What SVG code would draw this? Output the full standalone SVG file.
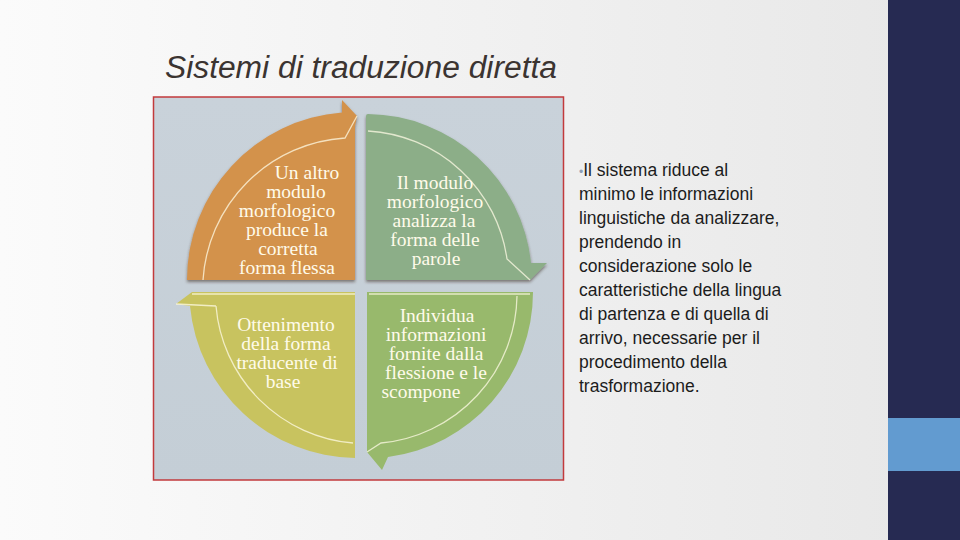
<svg xmlns="http://www.w3.org/2000/svg" width="960" height="540" viewBox="0 0 960 540">
<defs>
<linearGradient id="bg" x1="0" y1="0" x2="1" y2="0">
<stop offset="0" stop-color="#fbfbfb"/>
<stop offset="1" stop-color="#e7e7e7"/>
</linearGradient>
<linearGradient id="panel" x1="0" y1="0" x2="0" y2="1">
<stop offset="0" stop-color="#c9d2da"/>
<stop offset="1" stop-color="#c4ced6"/>
</linearGradient>
<filter id="sh" x="-10%" y="-10%" width="120%" height="125%">
<feDropShadow dx="0" dy="2" stdDeviation="1.5" flood-color="#3a2a1a" flood-opacity="0.55"/>
</filter>
<style>
.q{font-family:"Liberation Serif","Times New Roman",serif;font-size:19.5px;fill:#fffbea;text-anchor:middle}
.hl{fill:none;stroke:#fffbe6;stroke-width:1.3;stroke-opacity:0.75}
.bt{font-family:"Liberation Sans",Arial,sans-serif;font-size:17.5px;fill:#1c1c1c}
</style>
</defs>
<rect x="0" y="0" width="960" height="540" fill="url(#bg)"/>
<rect x="888" y="0" width="72" height="540" fill="#262a52"/>
<rect x="888" y="418" width="72" height="53" fill="#629bd0"/>
<text x="165" y="78" font-family="Liberation Sans, Arial, sans-serif" font-style="italic" font-size="31" fill="#3b3431" textLength="392" lengthAdjust="spacingAndGlyphs">Sistemi di traduzione diretta</text>
<rect x="153.5" y="97" width="410" height="383" fill="url(#panel)" stroke="#c23a3c" stroke-width="1.5"/>
<g id="connectors"/>
<g id="node-orange">
<path d="M187,280 A168,168 0 0 1 342,112.5 L342,100 L357,116 L355,126 L355,280 Z" fill="#d3924c" filter="url(#sh)"/>
<path class="hl" d="M203,280 A152,152 0 0 1 345,138 L357,116"/>
<text class="q" x="307" y="179">Un altro</text>
<text class="q" x="296" y="198">modulo</text>
<text class="q" x="287" y="217">morfologico</text>
<text class="q" x="287" y="236">produce la</text>
<text class="q" x="288" y="255">corretta</text>
<text class="q" x="287" y="274">forma flessa</text>
</g>
<g id="node-green-top">
<path d="M366,280 L366,116 Q366,114 368,114 A166,166 0 0 1 531,263 L547,263 L530,280 L366,280 Z" fill="#8cae88" filter="url(#sh)"/>
<path class="hl" d="M368,131 A149,149 0 0 1 507,259 L530,280"/>
<text class="q" x="435" y="189">Il modulo</text>
<text class="q" x="435" y="208">morfologico</text>
<text class="q" x="434" y="227">analizza la</text>
<text class="q" x="435" y="246">forma delle</text>
<text class="q" x="436" y="265">parole</text>
</g>
<g id="node-yellow">
<path d="M355,292 L192,292 L176,304 L190,306 A168,168 0 0 0 355,458 Z" fill="#c8c35f"/>
<path class="hl" d="M355,294 L192,294 M216,306 A150,150 0 0 0 353,443 M176,304 L216,306"/>
<text class="q" x="286" y="331">Ottenimento</text>
<text class="q" x="286" y="350">della forma</text>
<text class="q" x="287" y="369">traducente di</text>
<text class="q" x="283" y="388">base</text>
</g>
<g id="node-green-bottom">
<path d="M367,292 L533,292 A166,166 0 0 1 388,457 L382,470 L367,452 Z" fill="#98b96c"/>
<path class="hl" d="M369,294 L530,294 M517,296 A150,150 0 0 1 381,443 L367,452"/>
<text class="q" x="437" y="322">Individua</text>
<text class="q" x="436" y="341">informazioni</text>
<text class="q" x="436" y="360">fornite dalla</text>
<text class="q" x="436" y="379">flessione e le</text>
<text class="q" x="421" y="398">scompone</text>
</g>
<g id="bullet-text">
<text class="bt" x="579" y="176"><tspan fill="#8d9fb6" font-size="12">•</tspan>Il sistema riduce al</text>
<text class="bt" x="579" y="200">minimo le informazioni</text>
<text class="bt" x="579" y="224">linguistiche da analizzare,</text>
<text class="bt" x="579" y="248">prendendo in</text>
<text class="bt" x="579" y="272">considerazione solo le</text>
<text class="bt" x="579" y="296">caratteristiche della lingua</text>
<text class="bt" x="579" y="320">di partenza e di quella di</text>
<text class="bt" x="579" y="344">arrivo, necessarie per il</text>
<text class="bt" x="579" y="368">procedimento della</text>
<text class="bt" x="579" y="392">trasformazione.</text>
</g>
</svg>
